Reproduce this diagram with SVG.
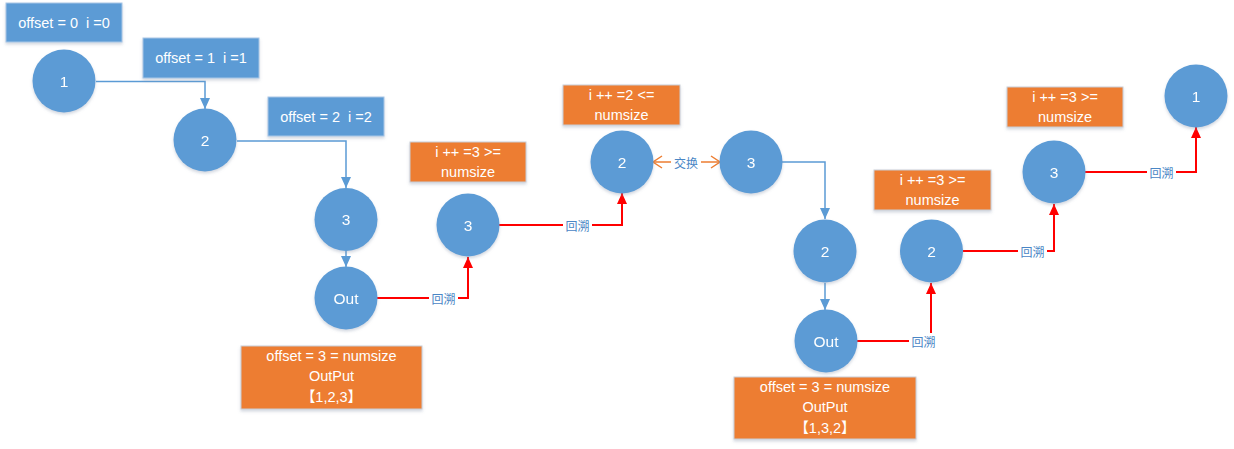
<svg xmlns="http://www.w3.org/2000/svg" width="1234" height="449" viewBox="0 0 1234 449">
  <defs>
    <style>
      .node { fill: #5B9BD5; }
      .circ { filter: url(#sh); }
      .box-b { fill: #5B9BD5; stroke: #A9C6E6; stroke-width: 1; filter: url(#sh); }
      .box-o { fill: #ED7D31; stroke: #C9CED6; stroke-width: 1; filter: url(#sh); }
      .t { fill: #FFFFFF; font-family: "Liberation Sans", "Noto Sans CJK SC", sans-serif; font-size: 14.5px; text-anchor: middle; dominant-baseline: central; white-space: pre; }
      .num { font-size: 15.5px; }
      .lbl { fill: #4A86C5; font-family: "Noto Sans CJK SC", "Liberation Sans", sans-serif; font-size: 12px; text-anchor: middle; dominant-baseline: central; }
      .lblbg { fill: #FFFFFF; }
      .blue { fill: none; stroke: #5B9BD5; stroke-width: 1.5; marker-end: url(#ab); }
      .red { fill: none; stroke: #FF0000; stroke-width: 2; marker-end: url(#ar); }
      .swap { fill: none; stroke: #ED7D31; stroke-width: 1.5; marker-start: url(#ao); marker-end: url(#ao); }
    </style>
    <filter id="sh" x="-20%" y="-20%" width="140%" height="150%">
      <feDropShadow dx="0" dy="2" stdDeviation="1.5" flood-color="#7f8fa6" flood-opacity="0.35"/>
    </filter>
    <marker id="ab" markerUnits="userSpaceOnUse" markerWidth="12" markerHeight="12" viewBox="0 0 12 12" refX="11" refY="6" orient="auto">
      <path d="M0,1 L11,6 L0,11 z" fill="#5B9BD5"/>
    </marker>
    <marker id="ar" markerUnits="userSpaceOnUse" markerWidth="12" markerHeight="12" viewBox="0 0 12 12" refX="11" refY="6" orient="auto">
      <path d="M0,1 L11,6 L0,11 z" fill="#FF0000"/>
    </marker>
    <marker id="ao" markerUnits="userSpaceOnUse" markerWidth="12" markerHeight="14" viewBox="0 0 12 14" refX="10" refY="7" orient="auto-start-reverse">
      <path d="M1,1 L10,7 L1,13" fill="none" stroke="#ED7D31" stroke-width="1.5"/>
    </marker>
  </defs>

  <rect width="1234" height="449" fill="#FFFFFF"/>

  <!-- connectors -->
  <g id="connectors">
    <path class="blue" d="M96,81.5 H205 V109"/>
    <path class="blue" d="M237,141 H346 V188"/>
    <path class="blue" d="M346,251 V267"/>
    <path class="red" d="M377,298 H468 V257"/>
    <path class="red" d="M499,225 H622 V193"/>
    <path class="swap" d="M653,162 H720"/>
    <path class="blue" d="M782,162 H825 V219"/>
    <path class="blue" d="M825,283 V310"/>
    <path class="red" d="M857,341 H931 V283"/>
    <path class="red" d="M963,251 H1054 V204"/>
    <path class="red" d="M1085,172 H1196 V127"/>

    <rect class="lblbg" x="429" y="290" width="29" height="16"/>
    <text class="lbl" x="443.5" y="298">回溯</text>
    <rect class="lblbg" x="563" y="217" width="29" height="16"/>
    <text class="lbl" x="577.5" y="225">回溯</text>
    <rect class="lblbg" x="671" y="154" width="30" height="16"/>
    <text class="lbl" x="686" y="162">交换</text>
    <rect class="lblbg" x="909" y="333" width="29" height="16"/>
    <text class="lbl" x="923.5" y="341">回溯</text>
    <rect class="lblbg" x="1018" y="243" width="29" height="16"/>
    <text class="lbl" x="1032.5" y="251">回溯</text>
    <rect class="lblbg" x="1147" y="164" width="29" height="16"/>
    <text class="lbl" x="1161.5" y="172">回溯</text>
  </g>

  <!-- state notes -->
  <g id="note-offset0">
    <rect class="box-b" x="6" y="3" width="116" height="39"/>
    <text class="t" x="64" y="22.5" xml:space="preserve">offset = 0  i =0</text>
  </g>
  <g id="note-offset1">
    <rect class="box-b" x="143" y="38" width="116" height="40"/>
    <text class="t" x="201" y="58" xml:space="preserve">offset = 1  i =1</text>
  </g>
  <g id="note-offset2">
    <rect class="box-b" x="268" y="97" width="116" height="39"/>
    <text class="t" x="326" y="116.5" xml:space="preserve">offset = 2  i =2</text>
  </g>
  <g id="note-i3-a">
    <rect class="box-o" x="410" y="142" width="116" height="40"/>
    <text class="t" x="468" y="152">i ++ =3 &gt;=</text>
    <text class="t" x="468" y="172">numsize</text>
  </g>
  <g id="note-i2">
    <rect class="box-o" x="563" y="85" width="117" height="40"/>
    <text class="t" x="621.5" y="95">i ++ =2 &lt;=</text>
    <text class="t" x="621.5" y="115">numsize</text>
  </g>
  <g id="note-out123">
    <rect class="box-o" x="241" y="346" width="181" height="63"/>
    <text class="t" x="331.5" y="356">offset = 3 = numsize</text>
    <text class="t" x="331.5" y="376">OutPut</text>
    <text class="t" x="331.5" y="397">【1,2,3】</text>
  </g>
  <g id="note-i3-b">
    <rect class="box-o" x="874" y="170" width="117" height="40"/>
    <text class="t" x="932.5" y="180">i ++ =3 &gt;=</text>
    <text class="t" x="932.5" y="200">numsize</text>
  </g>
  <g id="note-out132">
    <rect class="box-o" x="734" y="377" width="182" height="62"/>
    <text class="t" x="825" y="387">offset = 3 = numsize</text>
    <text class="t" x="825" y="407">OutPut</text>
    <text class="t" x="825" y="428">【1,3,2】</text>
  </g>
  <g id="note-i3-c">
    <rect class="box-o" x="1007" y="87" width="116" height="40"/>
    <text class="t" x="1065" y="97">i ++ =3 &gt;=</text>
    <text class="t" x="1065" y="117">numsize</text>
  </g>

  <!-- tree nodes -->
  <g id="n1" class="circ"><circle class="node" cx="64" cy="81" r="31.5"/><text class="t num" x="64" y="81">1</text></g>
  <g id="n2" class="circ"><circle class="node" cx="205" cy="140" r="31.5"/><text class="t num" x="205" y="140">2</text></g>
  <g id="n3" class="circ"><circle class="node" cx="346" cy="219.5" r="31.5"/><text class="t num" x="346" y="219.5">3</text></g>
  <g id="out1" class="circ"><circle class="node" cx="346" cy="298" r="31.5"/><text class="t num" x="346" y="298">Out</text></g>
  <g id="n3-back" class="circ"><circle class="node" cx="468" cy="225" r="31.5"/><text class="t num" x="468" y="225">3</text></g>
  <g id="n2-back" class="circ"><circle class="node" cx="622" cy="162" r="31.5"/><text class="t num" x="622" y="162">2</text></g>
  <g id="n3-swap" class="circ"><circle class="node" cx="751" cy="162" r="31.5"/><text class="t num" x="751" y="162">3</text></g>
  <g id="n2-swap" class="circ"><circle class="node" cx="825" cy="251" r="31.5"/><text class="t num" x="825" y="251">2</text></g>
  <g id="out2" class="circ"><circle class="node" cx="826" cy="341" r="31.5"/><text class="t num" x="826" y="341">Out</text></g>
  <g id="n2-back2" class="circ"><circle class="node" cx="931.5" cy="251" r="31.5"/><text class="t num" x="931.5" y="251">2</text></g>
  <g id="n3-back2" class="circ"><circle class="node" cx="1054" cy="172" r="31.5"/><text class="t num" x="1054" y="172">3</text></g>
  <g id="n1-back" class="circ"><circle class="node" cx="1196" cy="96" r="31.5"/><text class="t num" x="1196" y="96">1</text></g>
</svg>
